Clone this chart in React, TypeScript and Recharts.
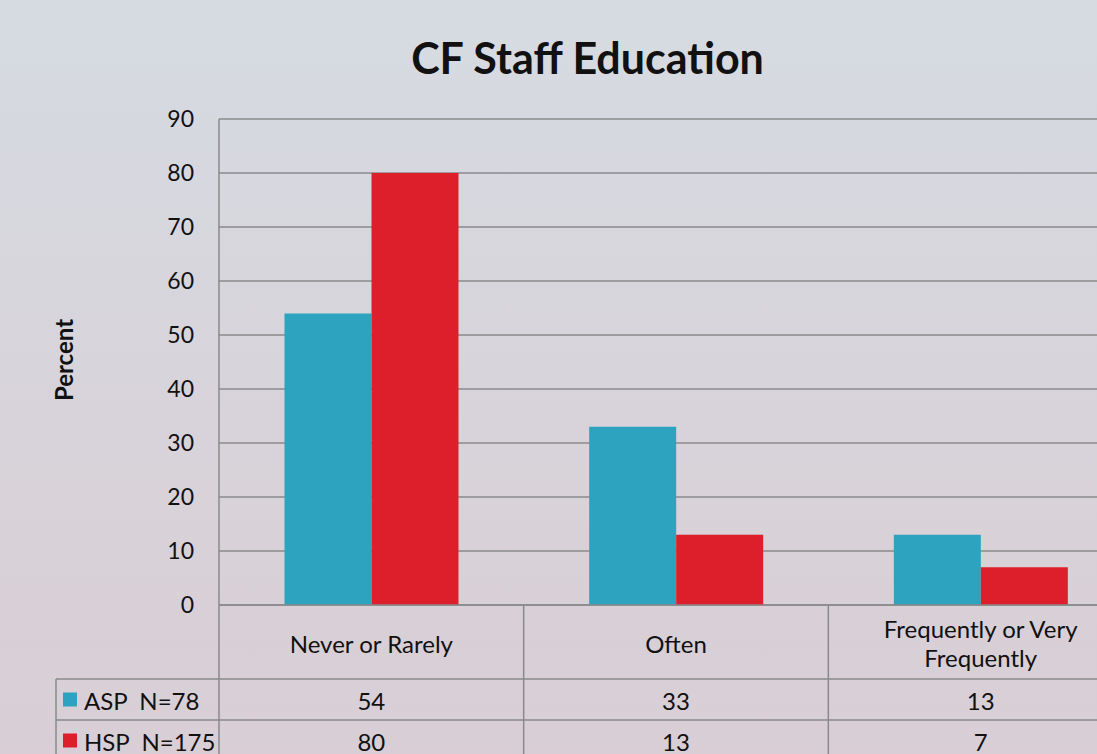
import React from 'react';
import { BarChart, Bar, XAxis, YAxis, CartesianGrid } from 'recharts';

const categories = ['Never or Rarely', 'Often', 'Frequently or Very Frequently'];
const aspValues = [54, 33, 13];
const hspValues = [80, 13, 7];
const seriesNames = ['ASP  N=78', 'HSP  N=175'];
const yTicks = [0, 10, 20, 30, 40, 50, 60, 70, 80, 90];

const ASP_COLOR = '#2ea3c0';
const HSP_COLOR = '#dc1f2a';
const LINE = '#8a8a8a';
const FONT = 'Lato, "Open Sans", sans-serif';
const FS = 24;

const CHART_W = 1133;
const CHART_H = 775;
const AXIS_W = 219;
const TOP = 119;
const X_AXIS_H = 170;
const BAND = (CHART_W - AXIS_W) / categories.length;
const CAT_ROW = 74;
const ROW = 41;

const data = categories.map((name, i) => ({ name, asp: aspValues[i], hsp: hspValues[i] }));

// crude word wrap for the category row
function wrap(text: string, max = 22): string[] {
  const lines: string[] = [];
  let cur = '';
  for (const w of text.split(' ')) {
    const next = cur ? cur + ' ' + w : w;
    if (next.length > max && cur) {
      lines.push(cur);
      cur = w;
    } else {
      cur = next;
    }
  }
  if (cur) lines.push(cur);
  return lines;
}

// draws the data table cell under each category
function TableTick(props: any) {
  const { x, y, payload } = props;
  const idx = categories.indexOf(payload.value);
  const left = x - BAND / 2;
  const right = x + BAND / 2;
  const bottom = y + 200;
  const r1 = y + CAT_ROW;
  const r2 = r1 + ROW;
  const r3 = r2 + ROW;
  const lines = wrap(payload.value);
  const lineH = 29;
  const catMid = y + CAT_ROW / 2 + 1;
  const legendLeft = left - 163;
  const values = [aspValues[idx], hspValues[idx]];
  const colors = [ASP_COLOR, HSP_COLOR];

  return (
    <g fontFamily={FONT} fontSize={FS} fill="#111">
      {idx === 0 && <line x1={left} x2={left} y1={y} y2={bottom} stroke={LINE} strokeWidth={1.5} />}
      <line x1={right} x2={right} y1={y} y2={bottom} stroke={LINE} strokeWidth={1.5} />
      {[r1, r2, r3].map((ry) => (
        <line key={ry} x1={idx === 0 ? legendLeft : left} x2={right} y1={ry} y2={ry} stroke={LINE} strokeWidth={1.5} />
      ))}
      {idx === 0 && <line x1={legendLeft} x2={legendLeft} y1={r1} y2={bottom} stroke={LINE} strokeWidth={1.5} />}
      {lines.map((l, i) => (
        <text
          key={i}
          x={x}
          y={catMid + (i - (lines.length - 1) / 2) * lineH}
          textAnchor="middle"
          dominantBaseline="central"
          fill="#111"
        >
          {l}
        </text>
      ))}
      {values.map((v, i) => (
        <text key={i} x={x} y={r1 + ROW * i + ROW / 2 + 1} textAnchor="middle" dominantBaseline="central" fill="#111">
          {v}
        </text>
      ))}
      {idx === 0 &&
        seriesNames.map((s, i) => (
          <g key={s}>
            <rect x={legendLeft + 7} y={r1 + ROW * i + ROW / 2 - 7} width={14} height={14} fill={colors[i]} />
            <text
              x={legendLeft + 28}
              y={r1 + ROW * i + ROW / 2 + 1}
              dominantBaseline="central"
              fill="#111"
              style={{ whiteSpace: 'pre' }}
            >
              {s}
            </text>
          </g>
        ))}
    </g>
  );
}

export default function App() {
  return (
    <div
      style={{
        position: 'fixed',
        top: 0,
        left: 0,
        width: 1097,
        height: 754,
        overflow: 'hidden',
        background: 'linear-gradient(to bottom, #d6dbe2 0%, #d8d3da 55%, #d9ced5 100%)',
      }}
    >
      <div
        style={{
          position: 'absolute',
          top: 30,
          left: 0,
          width: 1175,
          textAlign: 'center',
          fontFamily: FONT,
          fontWeight: 'bold',
          fontSize: 43,
          lineHeight: '56px',
          color: '#111',
        }}
      >
        CF Staff Education
      </div>
      <BarChart
        width={CHART_W}
        height={CHART_H}
        data={data}
        margin={{ top: TOP, right: 0, bottom: 0, left: 0 }}
        barCategoryGap="21.5%"
        barGap={0}
      >
        <CartesianGrid vertical={false} stroke={LINE} strokeWidth={1.5} />
        <XAxis
          dataKey="name"
          height={X_AXIS_H}
          axisLine={{ stroke: LINE, strokeWidth: 1.5 }}
          tickLine={false}
          tickSize={0}
          tickMargin={0}
          interval={0}
          tick={<TableTick />}
        />
        <YAxis
          width={AXIS_W}
          domain={[0, 90]}
          ticks={yTicks}
          tickLine={false}
          tickSize={0}
          tickMargin={25}
          axisLine={{ stroke: LINE, strokeWidth: 1.5 }}
          tick={{ fill: '#111', fontSize: 23, fontFamily: FONT }}
          label={{
            content: () => (
              <text
                x={63}
                y={360}
                transform="rotate(-90 63 360)"
                textAnchor="middle"
                dominantBaseline="central"
                fontFamily={FONT}
                fontWeight="bold"
                fontSize={24}
                fill="#111"
              >
                Percent
              </text>
            ),
          }}
        />
        <Bar dataKey="asp" fill={ASP_COLOR} isAnimationActive={false} />
        <Bar dataKey="hsp" fill={HSP_COLOR} isAnimationActive={false} />
      </BarChart>
    </div>
  );
}
